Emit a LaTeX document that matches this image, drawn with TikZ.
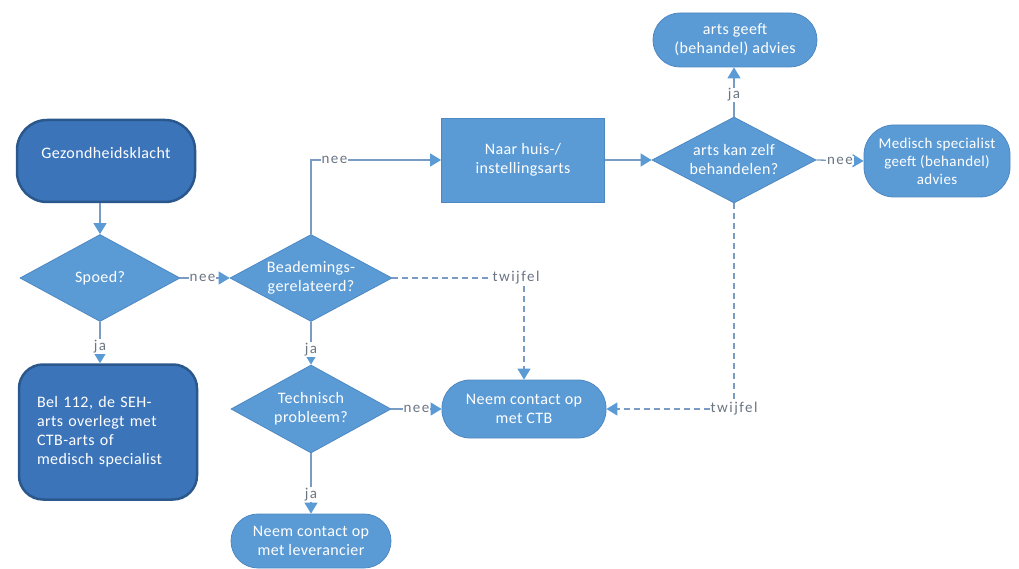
\documentclass[tikz,border=0pt]{standalone}
\usepackage{fontspec}
\setmainfont{Carlito}[LetterSpace=2.5]
\newfontfamily\lblfont{Carlito}[LetterSpace=10]
\usetikzlibrary{shapes.geometric,arrows.meta}
\definecolor{lightblue}{HTML}{5B9BD5}
\definecolor{lightedge}{HTML}{4E88C2}
\definecolor{darkfill}{HTML}{3C74BA}
\definecolor{darkedge}{HTML}{2B588C}
\definecolor{linecol}{HTML}{7A9CC4}
\definecolor{labelcol}{HTML}{6B7683}
\begin{document}
\begin{tikzpicture}[x=1pt,y=-1pt,
  base/.style={text=white, font=\fontsize{16}{19}\selectfont, align=center},
  proc/.style={base, fill=lightblue, draw=lightedge, line width=0.8pt, inner sep=2pt},
  decision/.style={base, shape=diamond, fill=lightblue, draw=lightedge, line width=0.8pt, inner sep=-12pt},
  darkbox/.style={base, fill=darkfill, draw=darkedge, line width=2.5pt},
  conn/.style={draw=linecol, line width=1.3pt, -{Triangle[width=13pt,length=11pt,color=lightblue]}},
  doubt/.style={conn, dash pattern=on 6pt off 4pt},
  lbl/.style={fill=white, text=labelcol, font=\lblfont\fontsize{15}{17}\selectfont, inner sep=1pt}
]
\useasboundingbox (0,0) rectangle (1019,569);

% nodes
\node[darkbox, rounded corners=30pt, minimum width=178pt, minimum height=82pt] (gez) at (106,161) {Gezondheidsklacht\\[-2pt]\mbox{}};
\node[decision, minimum width=160pt, minimum height=87pt] (spoed) at (100,278) {Spoed?};
\node[decision, minimum width=162pt, minimum height=87pt] (bead) at (311,278) {Beademings-\\gerelateerd?};
\node[darkbox, rounded corners=24pt, minimum width=178pt, minimum height=135pt, text width=142pt, align=left] (bel) at (108,432) {Bel 112, de SEH-\\arts overlegt met\\CTB-arts of\\medisch specialist};
\node[decision, minimum width=160pt, minimum height=88pt] (tech) at (311,409) {Technisch\\probleem?};
\node[proc, rounded corners=27pt, minimum width=160pt, minimum height=54pt] (lev) at (311,541) {Neem contact op\\met leverancier};
\node[proc, rounded corners=28pt, minimum width=164pt, minimum height=58pt] (ctb) at (524,409) {Neem contact op\\met CTB};
\node[proc, minimum width=163pt, minimum height=84pt] (naar) at (523,160) {Naar huis-/\\instellingsarts};
\node[decision, minimum width=164pt, minimum height=86pt] (arts) at (734,160) {arts kan zelf\\behandelen?};
\node[proc, rounded corners=27pt, minimum width=164pt, minimum height=54pt] (geeft) at (735,40) {arts geeft\\(behandel) advies};
\node[proc, rounded corners=30pt, minimum width=146pt, minimum height=72pt, font=\fontsize{15}{18}\selectfont] (med) at (937,161) {Medisch specialist\\geeft (behandel)\\advies};

% connectors
\draw[conn] (gez.south -| spoed.north) -- (spoed.north);
\draw[conn] (spoed.east) -- node[lbl, pos=0.45] {nee} (bead.west);
\draw[conn] (spoed.south) -- node[lbl, pos=0.6] {ja} (spoed.south |- bel.north);
\draw[conn] (bead.north) |- node[lbl, pos=0.59] {nee} (naar.west);
\draw[doubt] (bead.east) -| node[lbl, pos=0.5, xshift=-8pt] {twijfel} (ctb.north);
\draw[conn] (bead.south) -- node[lbl, pos=0.65] {ja} (tech.north);
\draw[conn] (tech.east) -- node[lbl, pos=0.5] {nee} (ctb.west);
\draw[conn] (tech.south) -- node[lbl, pos=0.68] {ja} (lev.north);
\draw[conn] (naar.east) -- (arts.west);
\draw[conn] (arts.north) -- node[lbl, pos=0.44] {ja} (arts.north |- geeft.south);
\draw[conn] (arts.east) -- node[lbl, pos=0.5] {nee} (med.west);
\draw[doubt] (arts.south) |- node[lbl, pos=0.5] {twijfel} (ctb.east);
\end{tikzpicture}
\end{document}
